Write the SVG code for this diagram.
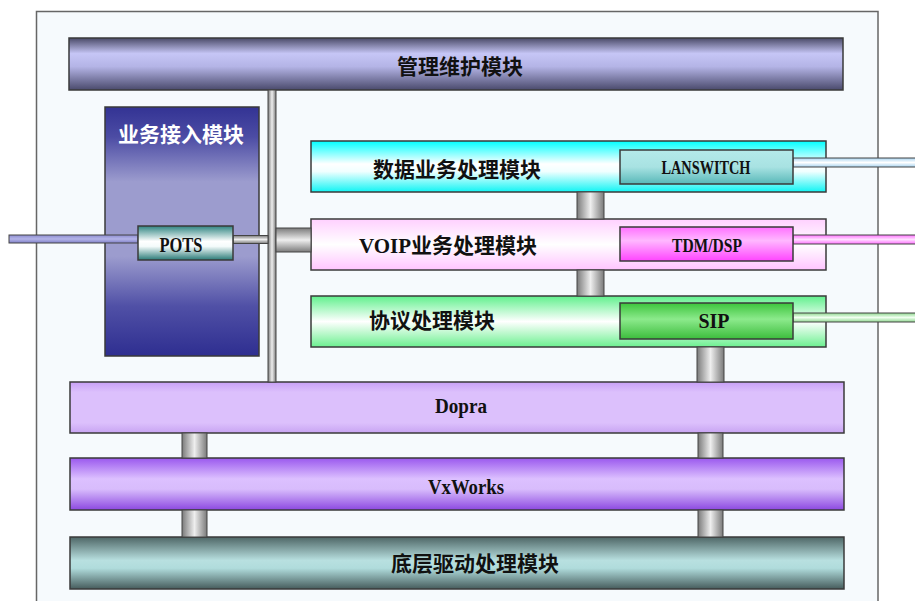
<svg xmlns="http://www.w3.org/2000/svg" width="915" height="601" viewBox="0 0 915 601">
<style>
.box{stroke:#3a3a3a;stroke-width:1.5}
.cn{stroke:#444;stroke-width:1}
.zh{font-family:"Noto Sans CJK SC","Noto Sans",sans-serif;font-size:21px;font-weight:bold;fill:#111;text-anchor:middle}
.en{font-family:"Liberation Serif",serif;font-weight:bold;font-size:20px;fill:#111;text-anchor:middle}
.ln{stroke:#444;stroke-width:1}
</style>
<defs>
<linearGradient id="gMgmt" x1="0" y1="0" x2="0" y2="1"><stop offset="0" stop-color="#4a4a68"/><stop offset="0.3" stop-color="#c6c6f6"/><stop offset="0.55" stop-color="#b4b4e6"/><stop offset="1" stop-color="#4a4a6c"/></linearGradient>
<linearGradient id="gAcc" x1="0" y1="0" x2="0" y2="1"><stop offset="0" stop-color="#333394"/><stop offset="0.12" stop-color="#4c4ca4"/><stop offset="0.3" stop-color="#9c9cce"/><stop offset="0.6" stop-color="#9c9cce"/><stop offset="0.8" stop-color="#5050a6"/><stop offset="1" stop-color="#2e2e90"/></linearGradient>
<linearGradient id="gPots" x1="0" y1="0" x2="0" y2="1"><stop offset="0" stop-color="#2f8582"/><stop offset="0.45" stop-color="#ffffff"/><stop offset="0.6" stop-color="#f4fbfb"/><stop offset="1" stop-color="#2a7a77"/></linearGradient>
<linearGradient id="gData" x1="0" y1="0" x2="0" y2="1"><stop offset="0" stop-color="#00ffff"/><stop offset="0.45" stop-color="#ffffff"/><stop offset="0.6" stop-color="#f0ffff"/><stop offset="1" stop-color="#10f4f4"/></linearGradient>
<linearGradient id="gVoip" x1="0" y1="0" x2="0" y2="1"><stop offset="0" stop-color="#ffd0ff"/><stop offset="0.5" stop-color="#ffffff"/><stop offset="1" stop-color="#ffc4ff"/></linearGradient>
<linearGradient id="gProto" x1="0" y1="0" x2="0" y2="1"><stop offset="0" stop-color="#60f08c"/><stop offset="0.5" stop-color="#ffffff"/><stop offset="1" stop-color="#6cf090"/></linearGradient>
<linearGradient id="gLan" x1="0" y1="0" x2="0" y2="1"><stop offset="0" stop-color="#b4eaea"/><stop offset="0.5" stop-color="#a8e2e2"/><stop offset="1" stop-color="#58b8b8"/></linearGradient>
<linearGradient id="gTdm" x1="0" y1="0" x2="0" y2="1"><stop offset="0" stop-color="#ff70ff"/><stop offset="0.4" stop-color="#ffb8ff"/><stop offset="1" stop-color="#ff44ff"/></linearGradient>
<linearGradient id="gSip" x1="0" y1="0" x2="0" y2="1"><stop offset="0" stop-color="#3cc43c"/><stop offset="0.45" stop-color="#8cea8c"/><stop offset="1" stop-color="#3cbc3c"/></linearGradient>
<linearGradient id="gDopra" x1="0" y1="0" x2="0" y2="1"><stop offset="0" stop-color="#c8a0f6"/><stop offset="0.2" stop-color="#dcc0fc"/><stop offset="0.8" stop-color="#dcc0fc"/><stop offset="1" stop-color="#c8a4f2"/></linearGradient>
<linearGradient id="gVx" x1="0" y1="0" x2="0" y2="1"><stop offset="0" stop-color="#9a58ee"/><stop offset="0.4" stop-color="#dcc0ff"/><stop offset="0.6" stop-color="#d8bcfc"/><stop offset="1" stop-color="#8c48e0"/></linearGradient>
<linearGradient id="gBase" x1="0" y1="0" x2="0" y2="1"><stop offset="0" stop-color="#4e6666"/><stop offset="0.45" stop-color="#b8e0e0"/><stop offset="0.6" stop-color="#b0dcdc"/><stop offset="1" stop-color="#465c5c"/></linearGradient>
<linearGradient id="gGrayV" x1="0" y1="0" x2="1" y2="0"><stop offset="0" stop-color="#7a7a7a"/><stop offset="0.5" stop-color="#eeeeee"/><stop offset="1" stop-color="#7a7a7a"/></linearGradient>
<linearGradient id="gGrayH" x1="0" y1="0" x2="0" y2="1"><stop offset="0" stop-color="#7a7a7a"/><stop offset="0.5" stop-color="#eeeeee"/><stop offset="1" stop-color="#7a7a7a"/></linearGradient>
<linearGradient id="gLnBlue" x1="0" y1="0" x2="0" y2="1"><stop offset="0" stop-color="#8c8cd0"/><stop offset="0.5" stop-color="#b4b4e8"/><stop offset="1" stop-color="#8080c8"/></linearGradient>
<linearGradient id="gLnLan" x1="0" y1="0" x2="0" y2="1"><stop offset="0" stop-color="#a8d4f0"/><stop offset="0.5" stop-color="#ffffff"/><stop offset="1" stop-color="#a8d4f0"/></linearGradient>
<linearGradient id="gLnTdm" x1="0" y1="0" x2="0" y2="1"><stop offset="0" stop-color="#ff70ff"/><stop offset="0.5" stop-color="#ffe0ff"/><stop offset="1" stop-color="#ff70ff"/></linearGradient>
<linearGradient id="gLnSip" x1="0" y1="0" x2="0" y2="1"><stop offset="0" stop-color="#90d890"/><stop offset="0.5" stop-color="#f0fff0"/><stop offset="1" stop-color="#90d890"/></linearGradient>
</defs>
<rect x="0" y="0" width="915" height="601" fill="#ffffff"/>
<rect id="frame" x="36.5" y="11.5" width="841.5" height="600" fill="#f6fafd" stroke="#666" stroke-width="1.5"/>

<g id="mgmt">
<rect x="69" y="38" width="774" height="52" fill="url(#gMgmt)" class="box"/>
<text x="460" y="74" class="zh">管理维护模块</text>
</g>

<g id="access">
<rect x="105" y="107" width="154" height="249" fill="url(#gAcc)" class="box"/>
<text x="181" y="142" class="zh" style="fill:#ffffff">业务接入模块</text>
</g>

<g id="data">
<rect x="311" y="141" width="515" height="51" fill="url(#gData)" class="box"/>
<text x="457" y="177" class="zh">数据业务处理模块</text>
</g>

<g id="voip">
<rect x="311" y="219" width="515" height="51" fill="url(#gVoip)" class="box"/>
<text x="448" y="253" class="zh"><tspan style="font-family:'Liberation Serif',serif;font-size:21px">VOIP</tspan>业务处理模块</text>
</g>

<g id="proto">
<rect x="311" y="296" width="515" height="51" fill="url(#gProto)" class="box"/>
<text x="432" y="328" class="zh">协议处理模块</text>
</g>

<g id="dopra">
<rect x="70" y="382" width="774" height="51" fill="url(#gDopra)" class="box"/>
<text x="461" y="413" class="en" textLength="52" lengthAdjust="spacingAndGlyphs">Dopra</text>
</g>

<g id="vxworks">
<rect x="70" y="458" width="774" height="52" fill="url(#gVx)" class="box"/>
<text x="466" y="494" class="en" textLength="76" lengthAdjust="spacingAndGlyphs">VxWorks</text>
</g>

<g id="base">
<rect x="70" y="537" width="774" height="52" fill="url(#gBase)" class="box"/>
<text x="475" y="571" class="zh">底层驱动处理模块</text>
</g>

<g id="connectors">
<rect x="268" y="90" width="8" height="292" fill="url(#gGrayV)" class="cn"/>
<rect x="233" y="235.5" width="35" height="8" fill="url(#gGrayH)" class="cn"/>
<rect x="276" y="228" width="35" height="24" fill="url(#gGrayH)" class="cn"/>
<rect x="577" y="192" width="27" height="27" fill="url(#gGrayV)" class="cn"/>
<rect x="577" y="270" width="27" height="26" fill="url(#gGrayV)" class="cn"/>
<rect x="697" y="347" width="27" height="35" fill="url(#gGrayV)" class="cn"/>
<rect x="182" y="433" width="25" height="25" fill="url(#gGrayV)" class="cn"/>
<rect x="698" y="433" width="25" height="25" fill="url(#gGrayV)" class="cn"/>
<rect x="182" y="510" width="25" height="27" fill="url(#gGrayV)" class="cn"/>
<rect x="698" y="510" width="25" height="27" fill="url(#gGrayV)" class="cn"/>
<rect x="9" y="235" width="129" height="8" fill="url(#gLnBlue)" class="ln"/>
<rect x="793" y="158" width="123" height="9" fill="url(#gLnLan)" class="ln"/>
<rect x="793" y="235" width="123" height="9" fill="url(#gLnTdm)" class="ln"/>
<rect x="793" y="313" width="123" height="9" fill="url(#gLnSip)" class="ln"/>
</g>

<g id="pots">
<rect x="138" y="226" width="95" height="34" fill="url(#gPots)" class="box"/>
<text x="181" y="252" class="en" style="font-size:21px" textLength="43" lengthAdjust="spacingAndGlyphs">POTS</text>
</g>

<g id="lanswitch">
<rect x="620" y="150" width="173" height="34" fill="url(#gLan)" class="box"/>
<text x="706" y="174" class="en" style="font-size:18px" textLength="89" lengthAdjust="spacingAndGlyphs">LANSWITCH</text>
</g>

<g id="tdmdsp">
<rect x="620" y="227" width="173" height="34" fill="url(#gTdm)" class="box"/>
<text x="707" y="252" class="en" style="font-size:18px" textLength="70" lengthAdjust="spacingAndGlyphs">TDM/DSP</text>
</g>

<g id="sip">
<rect x="620" y="303" width="173" height="36" fill="url(#gSip)" class="box"/>
<text x="714" y="328" class="en" textLength="31" lengthAdjust="spacingAndGlyphs">SIP</text>
</g>
</svg>
